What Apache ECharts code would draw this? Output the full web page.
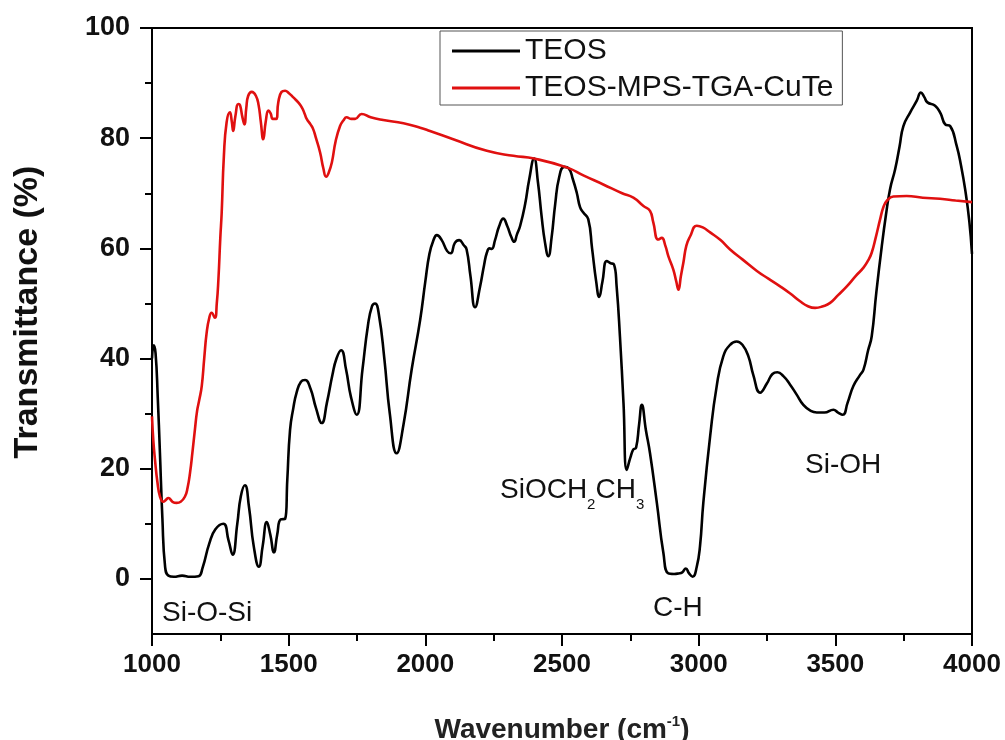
<!DOCTYPE html>
<html>
<head>
<meta charset="utf-8">
<script src="https://cdn.jsdelivr.net/npm/echarts@6/dist/echarts.min.js"></script>
<style>html,body{margin:0;padding:0;background:#fff}#c{width:1005px;height:740px}</style>
</head>
<body>
<div id="c"></div>
<script>
// ---- data ----
const seriesNames = ['TEOS', 'TEOS-MPS-TGA-CuTe'];
const teosX = [1000,1006,1013,1021,1029,1038,1048,1060,1080,1110,1140,1170,1185,1210,1232,1261,1280,1295,1312,1325,1340,1355,1372,1391,1405,1420,1433,1446,1458,1471,1487,1495,1505,1517,1529,1545,1560,1580,1600,1621,1640,1660,1675,1692,1710,1728,1749,1770,1790,1805,1816,1830,1850,1870,1895,1920,1950,1981,2000,2015,2030,2042,2060,2080,2093,2108,2124,2140,2151,2165,2182,2200,2215,2225,2235,2243,2255,2270,2285,2300,2315,2325,2335,2347,2365,2380,2398,2412,2425,2438,2450,2462,2475,2490,2508,2525,2540,2554,2566,2578,2596,2610,2625,2636,2648,2664,2678,2690,2700,2712,2725,2737,2750,2761,2771,2782,2792,2807,2822,2847,2871,2889,2910,2926,2940,2953,2965,2978,2993,3005,3017,3042,3066,3090,3115,3139,3160,3182,3200,3225,3250,3270,3288,3310,3334,3358,3383,3410,3432,3460,3493,3510,3527,3545,3566,3590,3603,3620,3633,3650,3670,3685,3700,3719,3735,3749,3774,3798,3813,3825,3837,3865,3885,3902,3920,3944,3960,3975,3990,4000];
const teosT = [40,42.4,41,33,22.9,11,2.2,0.6,0.4,0.6,0.4,0.5,2,6.5,9,10.0,7,4.4,10,15,17.0,13,6,2.2,6,10.3,8,4.8,8,10.8,10.9,18,27,31,33.8,35.8,36.1,34.5,31,28.3,32,37,40,41.5,38,33,29.8,38,46,49.5,50.0,48,40,30,22.8,28,38,47,54,59,61.5,62.4,61.5,59.5,59.1,61,61.5,60.6,59.8,55,49.3,53,57,59.2,60,59.9,61.5,64,65.4,64,62,61.2,62.5,64.1,68,72.5,76.3,72,66,61,58.6,62,68,73,74.8,74.5,72.5,70.1,67.5,66.5,65.3,60,54,51.2,54,57.7,57.3,57.1,53,44,31.9,19.8,22,23.5,23.8,28,31.6,27,22.8,13.8,4.7,1.0,0.9,1.0,1.2,1.9,1.0,0.4,2.2,6,13.8,25.9,35,40.4,42.5,43.1,42.5,40.4,37,33.8,35.5,37.2,37.5,36.8,35.3,33.5,31.6,30.5,30.2,30.2,30.7,30.2,29.8,32,35,37,38,41.5,44,52,60.4,66,70.7,74.4,78.5,82.2,84.7,86.8,88.3,87.5,86.5,85.9,84.5,82.5,82.2,78.6,75,70.7,65,59];
const cuteX = [1000,1005,1011,1020,1029,1041,1050,1060,1075,1090,1105,1121,1130,1139,1148,1157,1165,1173,1182,1191,1200,1210,1218,1230,1237,1243,1250,1255,1263,1273,1285,1292,1297,1305,1316,1322,1330,1338,1345,1352,1365,1380,1390,1398,1407,1416,1426,1434,1442,1454,1462,1474,1487,1500,1517,1535,1548,1558,1566,1580,1590,1600,1615,1627,1637,1647,1658,1672,1688,1700,1712,1728,1743,1767,1800,1846,1920,1981,2017,2102,2225,2322,2398,2517,2580,2651,2720,2761,2798,2822,2834,2852,2865,2878,2889,2907,2918,2926,2935,2944,2955,2969,2993,3015,3042,3080,3115,3160,3213,3255,3298,3335,3371,3400,3426,3455,3481,3510,3542,3575,3603,3620,3633,3648,3664,3676,3688,3712,3761,3820,3883,3940,4000];
const cuteT = [29.5,25,21.6,17.5,15,14,14.3,14.7,14,13.8,14,15,16.5,19.2,23,27.1,30.5,32.5,35,40,44.7,47.5,48.3,47.4,50,54.4,62,66.5,76.8,82.9,84.7,83,81.3,84,86.2,86,84,82.5,85.5,87.7,88.4,87.7,86,83,79.8,83,85,84.5,83.5,83.5,86.5,88.4,88.6,88.2,87.4,86.5,85.6,84.5,83.5,82.5,81.6,80,77.4,74.5,73,73.8,75.6,79.5,82.2,83.2,83.8,83.5,83.5,84.4,83.8,83.3,82.7,81.9,81.3,79.8,77.7,76.8,76.3,74.7,73.2,71.6,70,69.2,67.7,66.8,64.7,61.6,61.9,60.5,58.6,56.2,54,52.5,55,57.4,60.5,62.2,64.1,63.8,62.9,61.5,59.8,58,55.9,54.5,53.1,51.8,50.4,49.5,49.2,49.5,50.1,51.5,53.1,55,56.5,57.8,59.2,62,65.3,67.5,68.6,69.4,69.5,69.2,69,68.7,68.4];
const yMajorTicks = [0, 20, 40, 60, 80, 100];
const yMinorTicks = [10, 30, 50, 70, 90];
const xMin = 1000, xMax = 4000, xStep = 500;
const yMin = -10, yMax = 100;

const teosData = teosX.map((x, i) => [x, teosT[i]]);
const cuteData = cuteX.map((x, i) => [x, cuteT[i]]);

const chart = echarts.init(document.getElementById('c'), null, {renderer: 'canvas'});
const FONT = '"Liberation Sans", Arial, sans-serif';
chart.setOption({
  animation: false,
  backgroundColor: '#fff',
  grid: {left: 152, right: 33, top: 28, bottom: 106, containLabel: false, outerBoundsMode: 'none',
         show: true, borderColor: '#000', borderWidth: 2, backgroundColor: 'transparent'},
  legend: {
    orient: 'vertical', left: 440, top: 31,
    padding: [5, 9, 2, 12], itemGap: 7,
    itemWidth: 68, itemHeight: 3, icon: 'rect',
    borderColor: '#555', borderWidth: 1, backgroundColor: '#fff',
    textStyle: {fontFamily: FONT, fontSize: 30, color: '#111', lineHeight: 30},
    data: seriesNames
  },
  xAxis: {
    type: 'value', min: xMin, max: xMax, interval: xStep,
    name: '{a|Wavenumber (cm}{s|-1}{a|)}', nameLocation: 'middle', nameGap: 80,
    nameTextStyle: {rich: {
      a: {fontFamily: FONT, fontWeight: 'bold', fontSize: 28, color: '#222', lineHeight: 30, verticalAlign: 'bottom'},
      s: {fontFamily: FONT, fontWeight: 'bold', fontSize: 15, color: '#222', lineHeight: 15, padding: [0,0,14,0], verticalAlign: 'top'}
    }},
    axisLine: {show: true, onZero: false, lineStyle: {color: '#000', width: 2}},
    axisTick: {show: true, length: 12, lineStyle: {color: '#000', width: 2}},
    minorTick: {show: true, splitNumber: 2, length: 7, lineStyle: {color: '#000', width: 2}},
    axisLabel: {margin: 18, fontFamily: FONT, fontWeight: 'bold', fontSize: 26, color: '#111',
                formatter: v => String(v)},
    splitLine: {show: false}, minorSplitLine: {show: false}
  },
  yAxis: [{
    type: 'value', min: yMin, max: yMax,
    axisLine: {show: true, onZero: false, lineStyle: {color: '#000', width: 2}},
    axisTick: {show: true, length: 12, customValues: yMajorTicks, lineStyle: {color: '#000', width: 2}},
    axisLabel: {margin: 22, customValues: yMajorTicks, fontFamily: FONT, fontWeight: 'bold', fontSize: 27, color: '#111',
                formatter: v => String(v)},
    splitLine: {show: false}
  }, {
    type: 'value', min: yMin, max: yMax, position: 'left',
    axisLine: {show: false, onZero: false},
    axisTick: {show: true, length: 7, customValues: yMinorTicks, lineStyle: {color: '#000', width: 2}},
    axisLabel: {show: false, customValues: yMinorTicks},
    splitLine: {show: false}
  }],
  series: [{
    name: seriesNames[0], type: 'line', data: teosData, yAxisIndex: 0,
    showSymbol: false, symbol: 'none', smooth: 0.5,
    color: '#000', lineStyle: {color: '#000', width: 2.6}, z: 2
  }, {
    name: seriesNames[1], type: 'line', data: cuteData, yAxisIndex: 0,
    showSymbol: false, symbol: 'none', smooth: 0.5,
    color: '#e01010', lineStyle: {color: '#e01010', width: 2.6}, z: 3
  }],
  graphic: [
    {type: 'text', x: 28, y: 312, rotation: Math.PI / 2, z: 10, style: {
      text: 'Transmittance (%)', fontFamily: FONT, fontWeight: 'bold', fontSize: 34, fill: '#111',
      align: 'center', verticalAlign: 'middle'}},
    {type: 'text', left: 162, top: 599, z: 10, style: {text: 'Si-O-Si', fontFamily: FONT, fontSize: 28, fill: '#111'}},
    {type: 'text', left: 653, top: 594, z: 10, style: {text: 'C-H', fontFamily: FONT, fontSize: 28, fill: '#111'}},
    {type: 'text', left: 805, top: 451, z: 10, style: {text: 'Si-OH', fontFamily: FONT, fontSize: 28, fill: '#111'}},
    {type: 'text', left: 500, top: 476, z: 10, style: {
      text: '{a|SiOCH}{s|2}{a|CH}{s|3}',
      rich: {
        a: {fontFamily: FONT, fontSize: 28, fill: '#111', lineHeight: 28, verticalAlign: 'top'},
        s: {fontFamily: FONT, fontSize: 15, fill: '#111', lineHeight: 15, padding: [21,0,0,0], verticalAlign: 'top'}
      }
    }}
  ]
});
</script>
</body>
</html>
